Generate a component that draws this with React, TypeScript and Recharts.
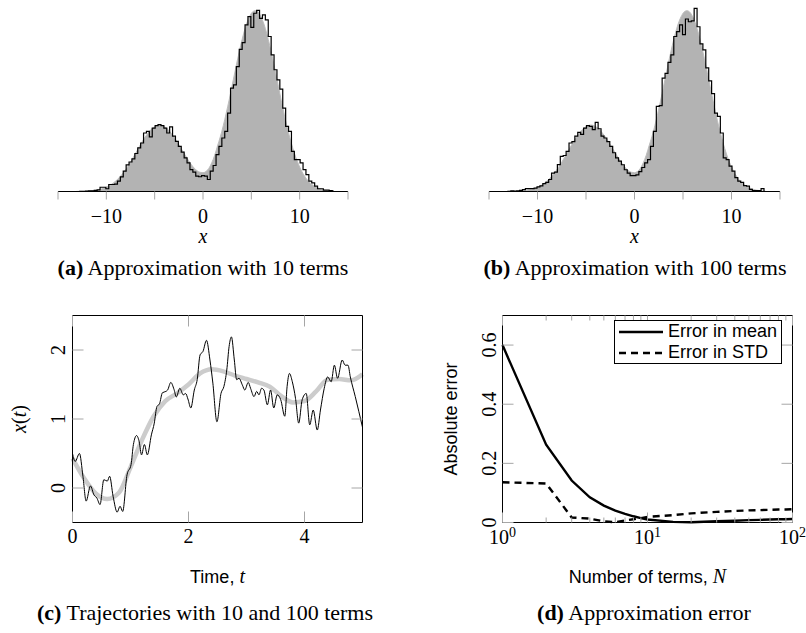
import React from 'react';
import { ComposedChart, Line, Area, Scatter, XAxis, YAxis, Legend } from 'recharts';

const SERIF = '"Liberation Serif", "Times New Roman", serif';
const SANS = '"Liberation Sans", Arial, sans-serif';
const TICK = '#a6a6a6';

// (a), (b): bin centres (width 0.3), target density and the two sample histograms
const binX = [
  -13.2, -12.9, -12.6, -12.3, -12, -11.7, -11.4, -11.1, -10.8, -10.5,
  -10.2, -9.9, -9.6, -9.3, -9, -8.7, -8.4, -8.1, -7.8, -7.5,
  -7.2, -6.9, -6.6, -6.3, -6, -5.7, -5.4, -5.1, -4.8, -4.5,
  -4.2, -3.9, -3.6, -3.3, -3, -2.7, -2.4, -2.1, -1.8, -1.5,
  -1.2, -0.9, -0.6, -0.3, 0, 0.3, 0.6, 0.9, 1.2, 1.5,
  1.8, 2.1, 2.4, 2.7, 3, 3.3, 3.6, 3.9, 4.2, 4.5,
  4.8, 5.1, 5.4, 5.7, 6, 6.3, 6.6, 6.9, 7.2, 7.5,
  7.8, 8.1, 8.4, 8.7, 9, 9.3, 9.6, 9.9, 10.2, 10.5,
  10.8, 11.1, 11.4, 11.7, 12, 12.3, 12.6, 12.9, 13.2, 13.5,
];
const targetDensity = [
  0, 0.0001, 0.0001, 0.0001, 0.0002, 0.0003, 0.0005, 0.0007, 0.001, 0.0014,
  0.0019, 0.0026, 0.0034, 0.0045, 0.0058, 0.0073, 0.0091, 0.0111, 0.0134, 0.0159,
  0.0186, 0.0214, 0.0242, 0.0269, 0.0294, 0.0316, 0.0335, 0.0348, 0.0357, 0.036,
  0.0357, 0.0348, 0.0335, 0.0316, 0.0295, 0.0271, 0.0245, 0.0219, 0.0193, 0.0168,
  0.0145, 0.0126, 0.0112, 0.0104, 0.0102, 0.0108, 0.0125, 0.0155, 0.0195, 0.0247,
  0.0298, 0.0357, 0.0424, 0.0495, 0.0571, 0.0647, 0.0722, 0.0792, 0.0855, 0.0908,
  0.0947, 0.0972, 0.098, 0.0972, 0.0947, 0.0908, 0.0855, 0.0792, 0.0721, 0.0646,
  0.0569, 0.0492, 0.0419, 0.035, 0.0288, 0.0233, 0.0185, 0.0145, 0.0111, 0.0084,
  0.0062, 0.0045, 0.0033, 0.0023, 0.0016, 0.0011, 0.0007, 0.0005, 0.0003, 0.0002,
];
const hist10 = [
  0, 0, 0.0001, 0.0001, 0.0002, 0.0003, 0.0004, 0.0006, 0.0009, 0.0023,
  0.0023, 0.0015, 0.0038, 0.0038, 0.004, 0.0056, 0.0079, 0.011, 0.0144, 0.016,
  0.0177, 0.0206, 0.0236, 0.0263, 0.0317, 0.0326, 0.0296, 0.0344, 0.0357, 0.0362,
  0.0357, 0.0344, 0.0317, 0.035, 0.03, 0.0272, 0.0245, 0.0213, 0.0182, 0.0155,
  0.0119, 0.0105, 0.0083, 0.008, 0.0086, 0.0083, 0.0065, 0.011, 0.0141, 0.02,
  0.0245, 0.029, 0.0326, 0.0425, 0.056, 0.0578, 0.0677, 0.077, 0.0807, 0.0903,
  0.0948, 0.089, 0.0966, 0.0982, 0.0938, 0.0957, 0.093, 0.084, 0.074, 0.066,
  0.0605, 0.0555, 0.0452, 0.0353, 0.0326, 0.0218, 0.0173, 0.0173, 0.0155, 0.0119,
  0.0092, 0.0056, 0.0047, 0.0029, 0.0015, 0.0015, 0.0007, 0.0007, 0.0005, 0.0003,
];
const hist100 = [
  0, 0.0001, 0.0004, 0.0002, 0.0003, 0.0006, 0.001, 0.0016, 0.0016, 0.0016,
  0.0018, 0.0025, 0.003, 0.0043, 0.005, 0.0065, 0.01, 0.0105, 0.0146, 0.019,
  0.0195, 0.0218, 0.0263, 0.027, 0.03, 0.032, 0.031, 0.0344, 0.0357, 0.0353,
  0.0335, 0.0375, 0.034, 0.03, 0.029, 0.027, 0.0245, 0.021, 0.0182, 0.0165,
  0.0145, 0.0118, 0.01, 0.0086, 0.0086, 0.009, 0.0108, 0.013, 0.0155, 0.0173,
  0.0245, 0.0326, 0.0461, 0.0465, 0.0615, 0.064, 0.07, 0.074, 0.084, 0.0866,
  0.0903, 0.085, 0.0935, 0.092, 0.0925, 0.0993, 0.0893, 0.08, 0.0768, 0.067,
  0.06, 0.053, 0.0425, 0.0407, 0.0317, 0.0182, 0.0173, 0.0137, 0.011, 0.0075,
  0.0056, 0.005, 0.0032, 0.0029, 0.0011, 0.0005, 0.0005, 0.0005, 0.0016, 0,
];
const histTicks = [-15, -10, -5, 0, 5, 10, 15];

// (c): trajectories with 10 and 100 terms
const t10 = [0, 0.2, 0.4, 0.6, 0.8, 1, 1.2, 1.4, 1.6, 1.8, 2, 2.2, 2.4, 2.6, 2.8, 3, 3.2, 3.4, 3.6, 3.8, 4, 4.2, 4.4, 4.6, 4.8, 5];
const x10 = [0.43, 0.14, -0.08, -0.16, -0.07, 0.3, 0.7, 1.04, 1.26, 1.37, 1.5, 1.66, 1.72, 1.69, 1.63, 1.58, 1.53, 1.47, 1.33, 1.24, 1.26, 1.4, 1.57, 1.58, 1.56, 1.65];
const t100 = [
  0, 0.046, 0.12, 0.18, 0.235, 0.31, 0.37, 0.42, 0.475, 0.54, 0.6, 0.64, 0.7, 0.77, 0.82, 0.865, 0.94, 1.01, 1.05, 1.105,
  1.15, 1.19, 1.24, 1.29, 1.36, 1.41, 1.455, 1.5, 1.55, 1.61, 1.64, 1.695, 1.75, 1.79, 1.85, 1.91, 1.95, 1.99, 2.04, 2.1,
  2.15, 2.2, 2.25, 2.31, 2.37, 2.42, 2.49, 2.56, 2.61, 2.66, 2.7, 2.74, 2.79, 2.83, 2.87, 2.93, 2.97, 3.03, 3.07, 3.13,
  3.175, 3.215, 3.26, 3.3, 3.36, 3.415, 3.47, 3.53, 3.59, 3.66, 3.7, 3.74, 3.79, 3.845, 3.9, 3.96, 4.03, 4.09, 4.15, 4.22,
  4.275, 4.34, 4.4, 4.46, 4.515, 4.57, 4.65, 4.7, 4.75, 4.79, 4.875, 5,
];
const x100 = [
  0.5, 0.385, 0.5, 0.17, -0.19, 0.03, -0.1, -0.145, -0.24, 0.12, 0.1, 0.17, -0.12, -0.35, -0.265, -0.34, 0.19, 0.34, 0.63, 0.76,
  0.67, 0.48, 0.63, 0.48, 0.77, 0.94, 1.18, 1.22, 1.38, 1.4, 1.42, 1.53, 1.43, 1.32, 1.445, 1.35, 1.37, 1.29, 1.16, 1.42,
  1.57, 1.93, 1.98, 2.14, 1.855, 1.52, 0.96, 1.37, 1.47, 1.71, 2.05, 2.19, 1.855, 1.57, 1.59, 1.49, 1.42, 1.53, 1.445, 1.325,
  1.4, 1.35, 1.445, 1.42, 1.205, 1.42, 1.16, 1.35, 1.28, 1.04, 1.47, 1.66, 1.54, 1.3, 0.94, 1.28, 1.37, 0.915, 1.13, 0.84,
  1.13, 1.445, 1.61, 1.54, 1.78, 1.59, 1.855, 1.78, 1.78, 1.61, 1.325, 0.88,
];
const tDomain = [0, 5];
const xDomain = [-0.5, 2.5];
const tTicks = [0, 2, 4];
const xTicks = [0, 1, 2];

// (d): approximation error vs number of terms
const nTerms = [1, 2, 3, 4, 5, 6, 7, 8, 9, 10, 15, 20, 30, 40, 50, 60, 70, 80, 90, 100];
const errMean = [0.6, 0.263, 0.142, 0.085, 0.057, 0.04, 0.029, 0.021, 0.015, 0.01, 0.002, 0.001, 0.004, 0.006, 0.008, 0.009, 0.01, 0.011, 0.011, 0.012];
const errStd = [0.136, 0.132, 0.017, 0.013, 0.004, 0.001, 0.007, 0.011, 0.015, 0.019, 0.025, 0.031, 0.036, 0.039, 0.041, 0.042, 0.043, 0.044, 0.044, 0.045];
const nDomain = [1, 100];
const eDomain = [0, 0.7];
const decades = [1, 10, 100];
const minorN = [2, 3, 4, 5, 6, 7, 8, 9, 20, 30, 40, 50, 60, 70, 80, 90];
const errTicks = [0, 0.2, 0.4, 0.6];

const histData = binX.map((x, i) => ({ x, density: targetDensity[i], h10: hist10[i], h100: hist100[i] }));
const traj10 = t10.map((t, i) => ({ t, x: x10[i] }));
const traj100 = t100.map((t, i) => ({ t, x: x100[i] }));
const errData = nTerms.map((n, i) => ({ n, mean: errMean[i], std: errStd[i] }));

// closed box around the plot area, built from the axis domains
const box = (xk: string, yk: string, xd: number[], yd: number[]) => [
  { [xk]: xd[0], [yk]: yd[0] },
  { [xk]: xd[1], [yk]: yd[0] },
  { [xk]: xd[1], [yk]: yd[1] },
  { [xk]: xd[0], [yk]: yd[1] },
  { [xk]: xd[0], [yk]: yd[0] },
];
const cFrame = box('t', 'v', tDomain, xDomain);
const dFrame = box('n', 'e', nDomain, eDomain);

// inner tick positions, placed on the frame through the axis scales
const cBottom = tTicks.map((t) => ({ t, v: xDomain[0] }));
const cTop = tTicks.map((t) => ({ t, v: xDomain[1] }));
const cLeft = xTicks.map((v) => ({ t: tDomain[0], v }));
const cRight = xTicks.map((v) => ({ t: tDomain[1], v }));
const dBottomMajor = decades.map((n) => ({ n, e: eDomain[0] }));
const dBottomMinor = minorN.map((n) => ({ n, e: eDomain[0] }));
const dTopMajor = decades.map((n) => ({ n, e: eDomain[1] }));
const dTopMinor = minorN.map((n) => ({ n, e: eDomain[1] }));
const dLeft = errTicks.map((e) => ({ n: nDomain[0], e }));
const dRight = errTicks.map((e) => ({ n: nDomain[1], e }));

const serifNum = { fontFamily: SERIF, fontSize: 20, fill: '#000' };
const minus = (v: number) => (v < 0 ? `\u2212${-v}` : `${v}`);

const tickMark = (dx: number, dy: number) => (p: any) => (
  <line x1={p.cx} y1={p.cy} x2={p.cx + dx} y2={p.cy + dy} stroke={TICK} strokeWidth={1} />
);

const bottomNum = (p: any) => (
  <text x={p.x} y={Number(p.y) + 20} textAnchor="middle" {...serifNum}>{p.payload.value}</text>
);
const rotatedNum = (gap: number, fmt: (v: number) => string) => (p: any) => {
  const x = Number(p.x) - gap;
  const y = Number(p.y);
  return (
    <text x={x} y={y} transform={`rotate(-90 ${x} ${y})`} textAnchor="middle" {...serifNum}>{fmt(p.payload.value)}</text>
  );
};
const powerNum = (p: any) => (
  <text x={p.x} y={Number(p.y) + 21} textAnchor="middle" {...serifNum}>
    10<tspan dy={-7} fontSize={14}>{Math.round(Math.log10(p.payload.value))}</tspan>
  </text>
);

const histTitle = (p: any) => {
  const vb = p.viewBox;
  return (
    <text x={vb.x + vb.width / 2} y={vb.y + 51} textAnchor="middle" fontFamily={SERIF} fontStyle="italic" fontSize={20}>x</text>
  );
};
const timeTitle = (p: any) => {
  const vb = p.viewBox;
  return (
    <text x={vb.x + vb.width / 2} y={vb.y + 60} textAnchor="middle" fontFamily={SANS} fontSize={18}>
      Time, <tspan fontFamily={SERIF} fontStyle="italic" fontSize={20}>t</tspan>
    </text>
  );
};
const xtTitle = (p: any) => {
  const vb = p.viewBox;
  const cx = vb.x + 26;
  const cy = vb.y + vb.height / 2;
  return (
    <text x={cx} y={cy} transform={`rotate(-90 ${cx} ${cy})`} textAnchor="middle" fontFamily={SERIF} fontSize={20}>
      <tspan fontStyle="italic">x</tspan>(<tspan fontStyle="italic">t</tspan>)
    </text>
  );
};
const termsTitle = (p: any) => {
  const vb = p.viewBox;
  return (
    <text x={vb.x + vb.width / 2} y={vb.y + 60} textAnchor="middle" fontFamily={SANS} fontSize={18}>
      Number of terms, <tspan fontFamily={SERIF} fontStyle="italic" fontSize={20}>N</tspan>
    </text>
  );
};
const errTitle = (p: any) => {
  const vb = p.viewBox;
  const cx = vb.x + 54;
  const cy = vb.y + vb.height / 2;
  return (
    <text x={cx} y={cy} transform={`rotate(-90 ${cx} ${cy})`} textAnchor="middle" fontFamily={SANS} fontSize={18}>
      Absolute error
    </text>
  );
};

const dashOf: Record<string, string | undefined> = { mean: undefined, std: '7 5' };
const errLegend = (p: any) => (
  <div style={{ border: '1px solid #000', background: '#fff', padding: '0 4px', fontFamily: SANS, fontSize: 18, lineHeight: '21px', color: '#000' }}>
    {(p.payload || []).filter((e: any) => e.dataKey in dashOf).map((e: any) => (
      <div key={e.value} style={{ display: 'flex', alignItems: 'center', height: 21 }}>
        <svg width={44} height={6} style={{ display: 'block' }}>
          <line x1={0} x2={44} y1={3} y2={3} stroke="#000" strokeWidth={2.4} strokeDasharray={dashOf[e.dataKey]} />
        </svg>
        <span style={{ marginLeft: 5, whiteSpace: 'nowrap' }}>{e.value}</span>
      </div>
    ))}
  </div>
);

const HistPanel = ({ histKey, left, right }: { histKey: string; left: number; right: number }) => (
  <ComposedChart width={403} height={255} data={histData} margin={{ top: 7, right, bottom: 0, left }}>
    <XAxis
      dataKey="x"
      type="number"
      domain={[-15, 15]}
      ticks={histTicks}
      interval={0}
      height={63.5}
      tickSize={8}
      tickMargin={9}
      axisLine={{ stroke: '#000' }}
      tickLine={{ stroke: TICK }}
      tick={serifNum}
      tickFormatter={(v: number) => (Math.abs(v) === 10 || v === 0 ? minus(v) : '')}
      label={histTitle}
    />
    <YAxis hide width={0} domain={[0, 0.1]} />
    <Area dataKey="density" type="monotone" stroke="#bdbdbd" fill="#b3b3b3" fillOpacity={1} isAnimationActive={false} />
    <Line dataKey={histKey} type="step" stroke="#000" strokeWidth={1.2} dot={false} isAnimationActive={false} />
  </ComposedChart>
);

const TrajectoryPanel = () => (
  <ComposedChart width={403} height={300} margin={{ top: 15.5, right: 40.5, bottom: 0, left: 0 }}>
    <XAxis dataKey="t" type="number" domain={tDomain} ticks={tTicks} interval={0}
      height={77.5} tickSize={0} tickMargin={0} tickLine={false} axisLine={false} tick={bottomNum} label={timeTitle} />
    <YAxis type="number" domain={xDomain} ticks={xTicks} interval={0}
      width={72.5} tickSize={0} tickMargin={0} tickLine={false} axisLine={false}
      tick={rotatedNum(7.5, (v) => `${v}`)} label={xtTitle} />
    <Scatter data={cBottom} dataKey="v" shape={tickMark(0, -11)} legendType="none" isAnimationActive={false} />
    <Scatter data={cTop} dataKey="v" shape={tickMark(0, 11)} legendType="none" isAnimationActive={false} />
    <Scatter data={cLeft} dataKey="v" shape={tickMark(11, 0)} legendType="none" isAnimationActive={false} />
    <Scatter data={cRight} dataKey="v" shape={tickMark(-11, 0)} legendType="none" isAnimationActive={false} />
    <Line data={traj10} dataKey="x" type="monotone" stroke="#cccccc" strokeWidth={4.5} dot={false} isAnimationActive={false} />
    <Line data={traj100} dataKey="x" type="monotone" stroke="#000" strokeWidth={1} dot={false} isAnimationActive={false} />
    <Line data={cFrame} dataKey="v" type="linear" stroke="#000" strokeWidth={1} dot={false} legendType="none" isAnimationActive={false} />
  </ComposedChart>
);

const ErrorPanel = () => (
  <ComposedChart width={403} height={300} data={errData} margin={{ top: 15.5, right: 13.5, bottom: 0, left: 0 }}>
    <XAxis dataKey="n" type="number" scale="log" domain={nDomain} ticks={decades} interval={0}
      height={77.5} tickSize={0} tickMargin={0} tickLine={false} axisLine={false} tick={powerNum} label={termsTitle} />
    <YAxis type="number" domain={eDomain} ticks={errTicks} interval={0}
      width={99.5} tickSize={0} tickMargin={0} tickLine={false} axisLine={false}
      tick={rotatedNum(6.5, (v) => (v === 0 ? '0' : v.toFixed(1)))} label={errTitle} />
    <Scatter data={dBottomMajor} dataKey="e" shape={tickMark(0, -10)} legendType="none" isAnimationActive={false} />
    <Scatter data={dBottomMinor} dataKey="e" shape={tickMark(0, -5)} legendType="none" isAnimationActive={false} />
    <Scatter data={dTopMajor} dataKey="e" shape={tickMark(0, 10)} legendType="none" isAnimationActive={false} />
    <Scatter data={dTopMinor} dataKey="e" shape={tickMark(0, 5)} legendType="none" isAnimationActive={false} />
    <Scatter data={dLeft} dataKey="e" shape={tickMark(11, 0)} legendType="none" isAnimationActive={false} />
    <Scatter data={dRight} dataKey="e" shape={tickMark(-11, 0)} legendType="none" isAnimationActive={false} />
    <Line dataKey="mean" name="Error in mean" type="linear" stroke="#000" strokeWidth={2.4} dot={false} isAnimationActive={false} />
    <Line dataKey="std" name="Error in STD" type="linear" stroke="#000" strokeWidth={2.4} strokeDasharray="7 5" dot={false} isAnimationActive={false} />
    <Line data={dFrame} dataKey="e" type="linear" stroke="#000" strokeWidth={1} dot={false} legendType="none" isAnimationActive={false} />
    <Legend layout="vertical" align="center" verticalAlign="middle" itemSorter="dataKey" wrapperStyle={{ left: 211, top: 20, width: 'auto' }} content={errLegend} />
  </ComposedChart>
);

const captionStyle = { fontFamily: SERIF, fontSize: 22, fill: '#000' };

export default function App() {
  return (
    <div style={{ position: 'absolute', left: 0, top: 0, width: 806, height: 633, background: '#fff' }}>
      <div style={{ position: 'absolute', left: 0, top: 0 }}>
        <HistPanel histKey="h10" left={58} right={55} />
      </div>
      <div style={{ position: 'absolute', left: 403, top: 0 }}>
        <HistPanel histKey="h100" left={86} right={26} />
      </div>
      <div style={{ position: 'absolute', left: 0, top: 300 }}>
        <TrajectoryPanel />
      </div>
      <div style={{ position: 'absolute', left: 403, top: 300 }}>
        <ErrorPanel />
      </div>
      <svg width={806} height={633} style={{ position: 'absolute', left: 0, top: 0, pointerEvents: 'none' }}>
        <text x={203} y={275} textAnchor="middle" {...captionStyle}>
          <tspan fontWeight="bold">(a)</tspan> Approximation with 10 terms
        </text>
        <text x={635} y={275} textAnchor="middle" {...captionStyle}>
          <tspan fontWeight="bold">(b)</tspan> Approximation with 100 terms
        </text>
        <text x={205} y={620} textAnchor="middle" {...captionStyle}>
          <tspan fontWeight="bold">(c)</tspan> Trajectories with 10 and 100 terms
        </text>
        <text x={644} y={620} textAnchor="middle" {...captionStyle}>
          <tspan fontWeight="bold">(d)</tspan> Approximation error
        </text>
      </svg>
    </div>
  );
}
